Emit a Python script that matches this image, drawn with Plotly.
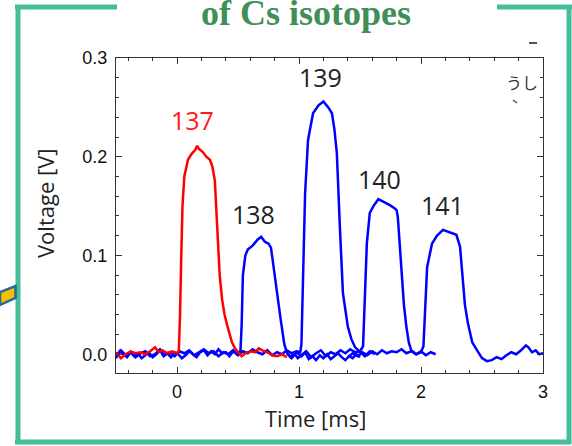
import plotly.graph_objects as go

# ---------------- data ----------------
t_137 = [-0.50, -0.46, -0.42, -0.38, -0.34, -0.30, -0.26, -0.22, -0.18, -0.15, -0.12, -0.08, -0.04, 0.00,
         0.015, 0.025, 0.035, 0.045, 0.06, 0.09, 0.12, 0.15, 0.165, 0.18, 0.21, 0.24, 0.27, 0.29, 0.31,
         0.33, 0.35, 0.37, 0.39, 0.41, 0.43, 0.45, 0.475, 0.50, 0.53, 0.56, 0.60, 0.64, 0.67, 0.70,
         0.74, 0.78, 0.82, 0.86, 0.90]
v_137 = [0.002, -0.004, 0.000, 0.003, 0.001, 0.002, 0.000, 0.003, 0.007, 0.002, 0.004, 0.001, 0.003, 0.001,
         0.004, 0.040, 0.100, 0.150, 0.180, 0.197, 0.203, 0.207, 0.211, 0.208, 0.205, 0.200, 0.197, 0.190, 0.176,
         0.130, 0.080, 0.055, 0.040, 0.030, 0.020, 0.012, 0.006, 0.002, -0.002, 0.001, 0.003, 0.002, 0.006, 0.004,
         0.002, -0.001, -0.002, 0.000, -0.003]

t_138 = [-0.50, -0.47, -0.44, -0.41, -0.38, -0.35, -0.32, -0.29, -0.26, -0.23, -0.20, -0.17, -0.14, -0.11,
         -0.08, -0.05, -0.02, 0.01, 0.04, 0.07, 0.10, 0.13, 0.16, 0.19, 0.22, 0.25, 0.28, 0.31, 0.34, 0.37,
         0.40, 0.43, 0.46, 0.49, 0.52, 0.53, 0.54, 0.56, 0.58, 0.62, 0.66, 0.69, 0.72, 0.75, 0.77, 0.79,
         0.82, 0.85, 0.88, 0.90, 0.93, 0.96, 0.99, 1.02, 1.05, 1.08, 1.11, 1.14, 1.17, 1.20, 1.23, 1.26,
         1.29, 1.32, 1.35, 1.38, 1.41, 1.44, 1.47, 1.50]
v_138 = [-0.004, 0.003, 0.000, -0.003, 0.002, -0.002, 0.001, -0.004, -0.001, 0.002, -0.003, 0.000, 0.004, -0.002,
         0.001, -0.003, 0.002, 0.000, -0.004, -0.001, 0.003, 0.000, -0.003, 0.002, 0.004, -0.001, 0.003, 0.000,
         0.005, 0.001, 0.002, -0.002, 0.003, 0.000, 0.003, 0.030, 0.080, 0.100, 0.106, 0.110, 0.116, 0.119,
         0.114, 0.112, 0.108, 0.090, 0.060, 0.035, 0.010, 0.002, -0.003, 0.001, -0.004, -0.001, 0.002, -0.005,
         -0.002, -0.006, -0.001, -0.004, 0.000, -0.005, -0.002, 0.001, -0.003, -0.006, -0.002, -0.004, 0.000, -0.003]

t_139 = [-0.50, -0.46, -0.42, -0.38, -0.34, -0.30, -0.26, -0.22, -0.18, -0.14, -0.10, -0.06, -0.02, 0.02,
         0.06, 0.10, 0.14, 0.18, 0.22, 0.26, 0.30, 0.34, 0.38, 0.42, 0.46, 0.50, 0.54, 0.58, 0.62, 0.66,
         0.70, 0.74, 0.78, 0.82, 0.86, 0.90, 0.94, 0.98, 1.01, 1.02, 1.035, 1.05, 1.074, 1.115, 1.16, 1.20,
         1.24, 1.27, 1.29, 1.31, 1.335, 1.36, 1.40, 1.43, 1.46, 1.50, 1.54, 1.58, 1.62]
v_139 = [-0.002, 0.004, -0.001, 0.002, -0.003, 0.001, 0.003, -0.002, 0.000, 0.005, -0.001, 0.002, -0.002, 0.003,
         0.001, 0.004, -0.001, 0.002, 0.005, 0.001, 0.003, -0.002, 0.002, 0.000, 0.004, -0.001, 0.003, 0.001,
         0.005, 0.002, 0.000, 0.004, -0.001, 0.002, 0.000, 0.004, 0.001, 0.003, 0.002, 0.010, 0.090, 0.163,
         0.217, 0.244, 0.252, 0.256, 0.250, 0.244, 0.228, 0.204, 0.129, 0.062, 0.028, 0.015, 0.007, 0.002,
         -0.002, 0.003, 0.000]

t_140 = [0.90, 0.94, 0.98, 1.02, 1.06, 1.10, 1.14, 1.18, 1.22, 1.26, 1.30, 1.34, 1.38, 1.42, 1.46, 1.50,
         1.525, 1.54, 1.556, 1.58, 1.61, 1.65, 1.70, 1.745, 1.78, 1.80, 1.81, 1.825, 1.84, 1.86, 1.88, 1.90,
         1.92, 1.96, 2.00, 2.04, 2.08, 2.12]
v_140 = [0.001, -0.004, 0.002, -0.002, 0.003, -0.003, 0.001, 0.004, -0.002, 0.002, 0.000, 0.004, 0.001, 0.005,
         0.002, 0.003, 0.008, 0.070, 0.112, 0.143, 0.150, 0.157, 0.154, 0.151, 0.148, 0.146, 0.139, 0.110,
         0.078, 0.050, 0.028, 0.012, 0.004, 0.000, 0.003, -0.001, 0.002, 0.000]

t_141 = [1.40, 1.44, 1.48, 1.52, 1.56, 1.60, 1.64, 1.68, 1.72, 1.76, 1.80, 1.84, 1.88, 1.92, 1.96, 2.00,
         2.02, 2.035, 2.05, 2.09, 2.13, 2.18, 2.23, 2.29, 2.32, 2.34, 2.36, 2.385, 2.42, 2.46, 2.50, 2.54,
         2.58, 2.62, 2.66, 2.70, 2.74, 2.78, 2.82, 2.86, 2.88, 2.91, 2.94, 2.97, 3.00]
v_141 = [-0.003, 0.001, -0.002, 0.002, -0.001, 0.003, 0.000, 0.004, 0.001, 0.003, 0.002, 0.005, 0.001, 0.003,
         0.000, 0.002, 0.008, 0.050, 0.088, 0.112, 0.120, 0.126, 0.124, 0.121, 0.109, 0.078, 0.050, 0.031,
         0.012, 0.004, -0.004, -0.007, -0.006, -0.003, -0.005, -0.001, 0.002, 0.000, 0.004, 0.009, 0.007,
         0.002, 0.004, 0.000, 0.001]

peak_labels = ["137", "138", "139", "140", "141"]
label_t = [0.13, 0.63, 1.18, 1.66, 2.18]
label_v = [0.237, 0.142, 0.281, 0.177, 0.151]
label_colors = ["#ff1a1a", "#222222", "#222222", "#222222", "#222222"]

x_ticks = [0, 1, 2, 3]
y_ticks = [0.0, 0.1, 0.2, 0.3]

# ---------------- figure ----------------
W, H = 572, 446
L, R, T, B = 116, 29, 58, 73
PW, PH = W - L - R, H - T - B


def px(x):
    return (x - L) / PW


def py(y):
    return (H - B - y) / PH


fig = go.Figure()
for t, v, c in [(t_138, v_138, "#0000ff"), (t_139, v_139, "#0000ff"), (t_140, v_140, "#0000ff"),
                (t_141, v_141, "#0000ff"), (t_137, v_137, "#ff0000")]:
    fig.add_trace(go.Scatter(x=t, y=v, mode="lines", line=dict(color=c, width=2.5),
                             showlegend=False, hoverinfo="skip"))

for lab, lt, lv, lc in zip(peak_labels, label_t, label_v, label_colors):
    fig.add_annotation(x=lt, y=lv, text=lab, showarrow=False, xref="x", yref="y",
                       xanchor="center", yanchor="middle",
                       font=dict(family="Open Sans", size=25, color=lc))

axis_common = dict(showline=True, linecolor="#333333", linewidth=1.2, mirror="ticks",
                   ticks="inside", ticklen=6, tickcolor="#333333", showgrid=False, zeroline=False,
                   tickfont=dict(family="Liberation Sans", size=18, color="#111111"))
fig.update_xaxes(range=[-0.5, 3], tickvals=x_ticks, ticktext=[str(v) for v in x_ticks],
                 ticklabelstandoff=2,
                 minor=dict(dtick=0.2, tick0=0, ticks="inside", ticklen=3, tickcolor="#333333"),
                 **axis_common)
fig.update_yaxes(range=[-0.019, 0.3], tickvals=y_ticks, ticktext=["%.1f" % v for v in y_ticks],
                 ticklabelstandoff=4,
                 minor=dict(dtick=0.02, tick0=0, ticks="inside", ticklen=3, tickcolor="#333333"),
                 **axis_common)

# axis titles
fig.add_annotation(x=px(315), y=py(418), xref="paper", yref="paper", text="Time [ms]", showarrow=False,
                   xanchor="center", yanchor="middle",
                   font=dict(family="Open Sans", size=22, color="#222222"))
fig.add_annotation(x=px(45), y=py(203), xref="paper", yref="paper", text="Voltage [V]", showarrow=False,
                   xanchor="center", yanchor="middle", textangle=-90,
                   font=dict(family="Open Sans", size=22, color="#222222"))

# slide title (clipped at top)
fig.add_annotation(x=px(306), y=py(25), xref="paper", yref="paper", text="<b>of Cs isotopes</b>",
                   showarrow=False, xanchor="center", yanchor="bottom", yshift=-10,
                   font=dict(family="Liberation Serif", size=36, color="#3f8f57"))
# stray glyphs at top right
fig.add_annotation(x=px(522), y=py(82), xref="paper", yref="paper", text="うし", showarrow=False,
                   xanchor="center", yanchor="middle",
                   font=dict(family="Noto Sans CJK JP", size=16, color="#333333"))
fig.add_shape(type="line", xref="paper", yref="paper", x0=px(513), y0=py(100), x1=px(517), y1=py(103),
              line=dict(color="#555555", width=1.5))
fig.add_shape(type="line", xref="paper", yref="paper", x0=px(529), y0=py(43), x1=px(537), y1=py(43),
              line=dict(color="#555555", width=2))

# slide frame
green = "#45bd98"
frame = [
    (15, 7, 117, 7), (18, 7, 18, 444), (15, 442, 571, 442), (569, 7, 569, 444), (497, 7, 572, 7),
]
for x0, y0, x1, y1 in frame:
    fig.add_shape(type="line", xref="paper", yref="paper", x0=px(x0), y0=py(y0), x1=px(x1), y1=py(y1),
                  line=dict(color=green, width=5), layer="above")
# yellow/blue stripe on the left
fig.add_shape(type="path", xref="paper", yref="paper",
              path="M %f,%f L %f,%f L %f,%f L %f,%f Z" % (px(0), py(292), px(15.5), py(286),
                                                          px(15.5), py(298), px(0), py(305)),
              fillcolor="#f6c000", line=dict(color="#2667a0", width=2.5), layer="above")

fig.update_layout(width=W, height=H, margin=dict(l=L, r=R, t=T, b=B),
                  paper_bgcolor="white", plot_bgcolor="white")
fig.write_html("out.html")
